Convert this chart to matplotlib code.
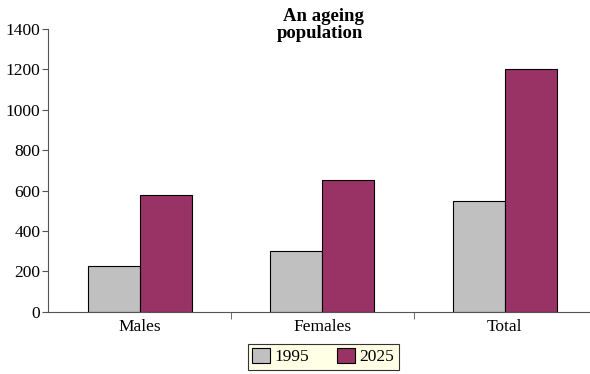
import matplotlib.pyplot as plt
import numpy as np

categories = ["Males", "Females", "Total"]
years = ["1995", "2025"]
values_1995 = [225, 300, 550]
values_2025 = [580, 650, 1200]

plt.rcParams["font.family"] = ["Liberation Serif", "DejaVu Serif"]

fig = plt.figure(figsize=(5.9, 3.74), dpi=100)
ax = fig.add_axes([0.0822, 0.166, 0.928, 0.757])

x = np.arange(len(categories))
width = 0.285
ax.bar(x - width / 2, values_1995, width, color="#C0C0C0", edgecolor="black",
       linewidth=0.8, label=years[0])
ax.bar(x + width / 2, values_2025, width, color="#993366", edgecolor="black",
       linewidth=0.8, label=years[1])

ax.set_xlim(-0.5, 2.5)
ax.set_ylim(0, 1400)
ax.set_yticks(np.arange(0, 1401, 200))
ax.set_xticks(x)
ax.set_xticklabels(categories)
ax.set_xticks([0.5, 1.5], minor=True)
ax.tick_params(axis="x", which="major", length=0, pad=5, labelsize=12.5)
ax.tick_params(axis="x", which="minor", length=5, direction="out", color="#555555")
ax.tick_params(axis="y", length=4, direction="out", color="#555555", labelsize=12.5, pad=2)

for side in ["top", "right"]:
    ax.spines[side].set_visible(False)
ax.spines["left"].set_color("#555555")
ax.spines["bottom"].set_color("#555555")

fig.text(0.543, 0.978, "An ageing\npopulation", ha="center", va="top",
         multialignment="right", fontsize=13.5, fontweight="bold",
         linespacing=1.0)

leg = fig.legend(loc="lower center", bbox_to_anchor=(0.548, -0.012), ncol=2,
                 frameon=True, fancybox=False, fontsize=12.5,
                 handlelength=1.0, handleheight=0.9, handletextpad=0.3,
                 columnspacing=1.6, borderpad=0.25)
leg.get_frame().set_facecolor("#FFFFE0")
leg.get_frame().set_edgecolor("black")
leg.get_frame().set_linewidth(0.8)

fig.savefig("out.png", dpi=100)
